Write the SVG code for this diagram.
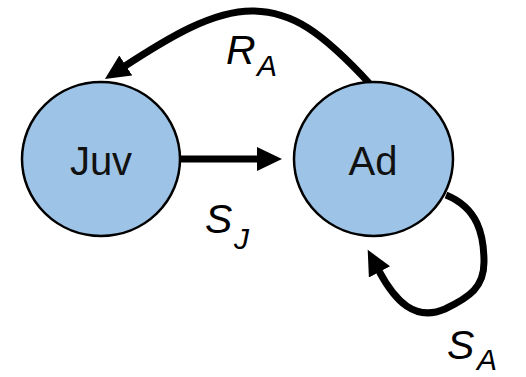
<svg xmlns="http://www.w3.org/2000/svg" width="526" height="377" viewBox="0 0 526 377">
<style>
.node{fill:#9dc3e6;stroke:#000;stroke-width:2.5}
.lbl{font-family:"Liberation Sans",Arial,sans-serif;font-size:40px;fill:#111;text-anchor:middle}
.edge{fill:none;stroke:#000;stroke-width:7}
.m{font-family:"Liberation Sans",Arial,sans-serif;font-style:italic;fill:#000;font-size:41px}
.s{font-size:30px}
</style>
<defs>
<marker id="ah" markerUnits="userSpaceOnUse" markerWidth="26" markerHeight="26" refX="1" refY="12" orient="auto" viewBox="0 0 26 26">
<path d="M0,0 L25,12 L0,24 z" fill="#000"/>
</marker>
</defs>
<g id="connectors">
<path class="edge" d="M370 84 C322 32, 292 11, 252 11 C212 11, 168 38, 125 66" marker-end="url(#ah)"/>
<path class="edge" d="M180 159 L258 159" marker-end="url(#ah)"/>
<path class="edge" d="M446 195 C478 208, 484 235, 484 262 C484 287, 470 297, 445 309 C415 322, 395 301, 379 271" marker-end="url(#ah)"/>
</g>
<g id="juv">
<ellipse class="node" cx="101" cy="159" rx="79" ry="77"/>
<text class="lbl" x="101" y="175">Juv</text>
</g>
<g id="ad">
<ellipse class="node" cx="373.5" cy="159" rx="79.5" ry="77"/>
<text class="lbl" x="373" y="175">Ad</text>
</g>
<g id="labels">
<text class="m" x="447" y="359">S<tspan class="s" x="477" y="370">A</tspan></text>
<text class="m" x="226" y="64">R<tspan class="s" x="257" y="76">A</tspan></text>
<text class="m" x="205" y="233">S<tspan class="s" x="234" y="249">J</tspan></text>
</g>
</svg>
